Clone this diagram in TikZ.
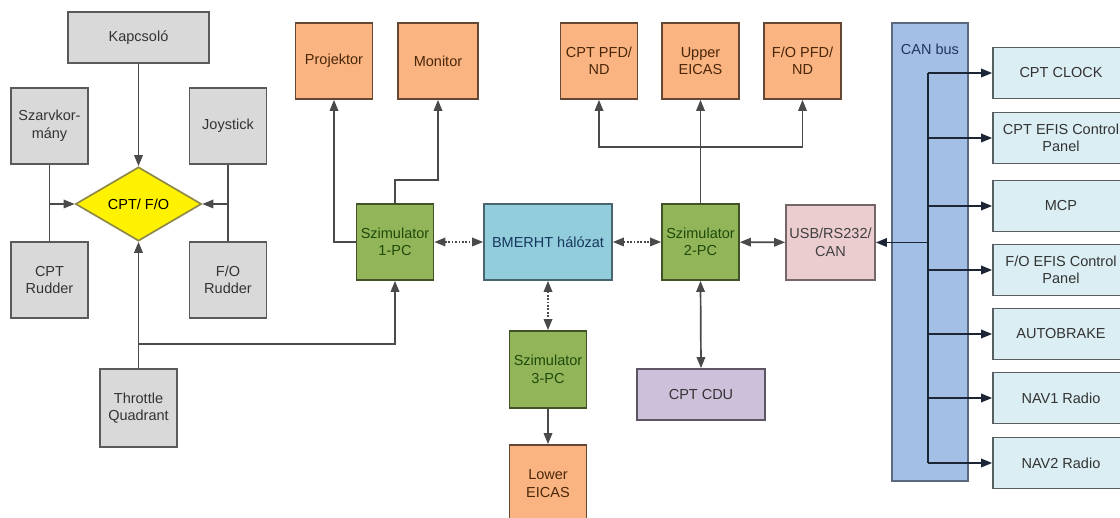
\documentclass[tikz,border=0pt]{standalone}
\usepackage{fontspec}
\setmainfont{Liberation Sans}
\usetikzlibrary{arrows.meta,shapes.geometric}

\definecolor{grayfill}{HTML}{D9D9D9}
\definecolor{grayline}{HTML}{5A5A5A}
\definecolor{orangefill}{HTML}{F9B482}
\definecolor{orangetext}{HTML}{4A2608}
\definecolor{greenfill}{HTML}{93B55A}
\definecolor{greentext}{HTML}{1E4A0A}
\definecolor{netfill}{HTML}{92CDDC}
\definecolor{nettext}{HTML}{17375E}
\definecolor{usbfill}{HTML}{EBCDD0}
\definecolor{cdufill}{HTML}{CCC0DA}
\definecolor{busfill}{HTML}{A3BFE6}
\definecolor{bustext}{HTML}{1F3559}
\definecolor{panelfill}{HTML}{DAEEF3}
\definecolor{wire}{HTML}{4A4A4A}
\definecolor{buswire}{HTML}{1C2536}

\begin{document}
\begin{tikzpicture}[x=1pt,y=-1pt,>={Triangle[length=11pt,width=8.5pt]},
  every node/.style={font=\fontsize{14.5}{17.5}\selectfont, align=center, inner sep=1pt},
  basebox/.style={line width=1.7pt, minimum width=77, minimum height=76},
  graybox/.style={basebox, draw=grayline, fill=grayfill, text=black!80},
  orangebox/.style={basebox, draw=black!60!orangefill, fill=orangefill, text=orangetext},
  greenbox/.style={basebox, draw=black!55!greenfill, fill=greenfill, text=greentext},
  netbox/.style={basebox, draw=black!50!netfill, fill=netfill, text=nettext, minimum width=128},
  usbbox/.style={basebox, draw=black!50!usbfill, fill=usbfill, text=black!75, minimum width=89, minimum height=75},
  cdubox/.style={basebox, draw=black!55!cdufill, fill=cdufill, text=black!80, minimum width=128, minimum height=51},
  busbox/.style={line width=1.7pt, draw=black!45!busfill, fill=busfill, minimum width=76, minimum height=458},
  panelbox/.style={basebox, draw=black!60!panelfill, fill=panelfill, text=black!80, minimum width=136, minimum height=51},
  wireline/.style={line width=1.7pt, draw=wire},
  dotwire/.style={wireline, dash pattern=on 1.7pt off 1.7pt}]

\useasboundingbox (0,0) rectangle (1120,518);

% input devices
\node[graybox, minimum width=141, minimum height=51] (kap) at (138.5,37.5) {Kapcsoló};
\node[graybox] (szarv) at (49.5,126) {Szarvkor-\\mány};
\node[graybox] (joy) at (228,126) {Joystick};
\node[diamond, line width=1.7pt, draw=black!50!yellow, fill=yellow, aspect=1.7,
      minimum width=126, minimum height=74, inner sep=0pt] (cpt) at (138.5,204) {CPT/ F/O};
\node[graybox] (cptrud) at (49.5,280) {CPT\\Rudder};
\node[graybox] (forud) at (228,280) {F/O\\Rudder};
\node[graybox, minimum height=78] (thr) at (138.5,408) {Throttle\\Quadrant};

% displays
\node[orangebox] (proj) at (334,61) {Projektor};
\node[orangebox, minimum width=80] (mon) at (438,61) {Monitor};
\node[orangebox] (cpd) at (599,61) {CPT PFD/\\ND};
\node[orangebox] (upe) at (700.5,61) {Upper\\EICAS};
\node[orangebox] (fod) at (802.5,61) {F/O PFD/\\ND};
\node[orangebox, minimum height=77] (low) at (548,483.5) {Lower\\EICAS};

% computers
\node[greenbox] (sim1) at (395,242) {Szimulator\\1-PC};
\node[netbox] (bme) at (548,242) {BMERHT hálózat};
\node[greenbox] (sim2) at (700.5,242) {Szimulator\\2-PC};
\node[greenbox, minimum height=77] (sim3) at (548,369.5) {Szimulator\\3-PC};
\node[usbbox] (usb) at (830.5,242.5) {USB/RS232/\\CAN};
\node[cdubox] (cdu) at (701,394.5) {CPT CDU};

% CAN bus
\node[busbox] (can) at (930,252) {};
\node[text=bustext] (canlbl) at (930,49) {CAN bus};

\foreach \n/\y/\t in {clk/73/CPT CLOCK, cefis/138/{CPT EFIS Control\\Panel}, mcp/206/MCP,
    fefis/270/{F/O EFIS Control\\Panel}, abrk/334/AUTOBRAKE, nav1/398/NAV1 Radio, nav2/463/NAV2 Radio} {
        \node[panelbox] (\n) at (1061,\y) {\t};
        \coordinate (b\n) at (928,\y);
        \draw[wireline, draw=buswire, ->] (b\n) -- (\n.west);
    }
\draw[wireline, draw=buswire] (bclk) -- (bnav2);
\coordinate (busu) at (928,242.5);
\draw[wireline, draw=buswire, ->] (busu) -- (usb.east);

% left side
\draw[wireline, ->] (kap.south) -- (cpt.north);
\draw[wireline] (szarv.south) -- (cptrud.north);
\draw[wireline, ->] (szarv.south |- cpt.west) -- (cpt.west);
\draw[wireline] (joy.south) -- (forud.north);
\draw[wireline, ->] (joy.south |- cpt.east) -- (cpt.east);
\draw[wireline, ->] (thr.north) -- (cpt.south);
\coordinate (tq) at (138.5,344);
\draw[wireline, ->] (tq) -| (sim1.south);

% outputs
\draw[wireline, ->] (sim1.west) -| (proj.south);
\coordinate (mk) at (438,180);
\draw[wireline, ->] (sim1.north) |- (mk) -- (mon.south);
\coordinate (br) at (700.5,147);
\draw[wireline] (sim2.north) -- (br);
\draw[wireline, ->] (br) -| (cpd.south);
\draw[wireline, ->] (br) -- (upe.south);
\draw[wireline, ->] (br) -| (fod.south);

% network
\draw[dotwire, <->] (sim1) -- (bme);
\draw[dotwire, <->] (bme) -- (sim2);
\draw[dotwire, <->] (bme) -- (sim3);
\draw[wireline, <->] (sim2) -- (usb);
\draw[wireline, ->] (sim3) -- (low);
\draw[wireline, <->] (sim2.south) -- (cdu.north);

\end{tikzpicture}
\end{document}
